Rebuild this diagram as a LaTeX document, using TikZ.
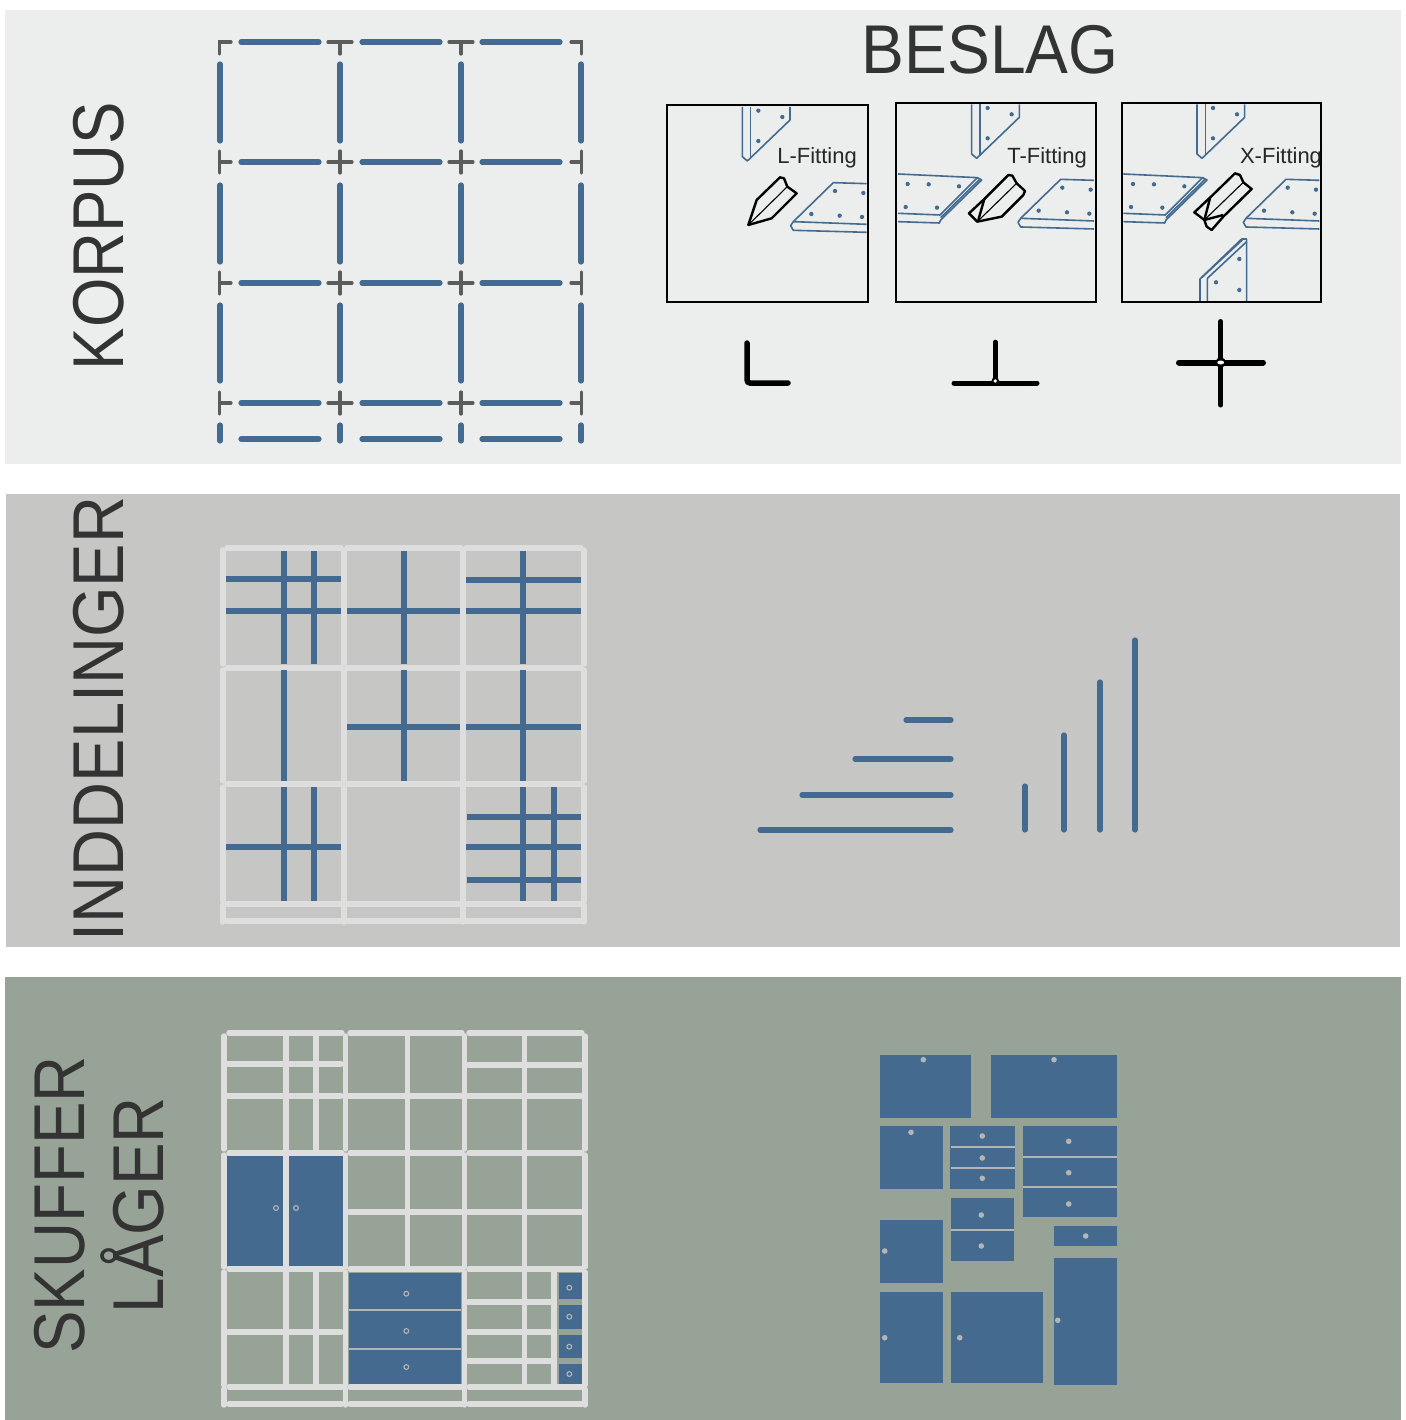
\documentclass[tikz,border=0pt]{standalone}
\usepackage{fontspec}
\setmainfont{Liberation Sans}
\definecolor{korpusbg}{HTML}{ECEEED}
\definecolor{inddelbg}{HTML}{C6C6C4}
\definecolor{skufferbg}{HTML}{98A398}
\definecolor{plate}{HTML}{446A90}
\definecolor{joint}{HTML}{5C5C5C}
\definecolor{rail}{HTML}{DEDEDE}
\definecolor{knob}{HTML}{B4B6B6}
\definecolor{heading}{HTML}{333333}
\tikzset{
  bigtitle/.style={text=heading, inner sep=0pt, font=\fontsize{72}{79}\selectfont},
  fitname/.style={text=black!85, inner sep=0pt, font=\fontsize{22}{24}\selectfont},
  board/.style={draw=plate, line width=5.2pt, line cap=round},
  connector/.style={draw=joint, line width=3.3pt, line cap=round},
  railline/.style={draw=rail, line width=5.4pt, line cap=round},
  divider/.style={draw=plate, line width=6.4pt},
  front/.style={fill=plate, draw=none},
  seam/.style={draw=knob, line width=2pt},
  knobdot/.style={fill=knob, draw=none, circle, minimum size=5.6pt, inner sep=0pt},
  ringdot/.style={draw=knob, line width=1.1pt, fill=plate, circle, minimum size=4.8pt, inner sep=0pt},
  fitbox/.style={draw=black, line width=2.8pt},
  sheet/.style={draw=plate, line width=1.6pt, line join=round},
  hole/.style={fill=plate, draw=none},
  wedge/.style={draw=black, line width=2.4pt, line join=round},
  symbolline/.style={draw=black, line width=5.5pt, line cap=round, rounded corners=3pt},
  % coordinates taken from a 3x enlargement
  pics/topsheet/.style={code={
    \draw[sheet] (247,36) -- (247,185) -- (262,198) -- (390,75) -- (390,36);
    \draw[sheet] (272,36) -- (272,190);
    \foreach \hx/\hy in {295/47,367/66,295/138} \fill[hole] (\hx,\hy) circle (6.5);
  }},
  pics/rightsheet/.style={code={
    \draw[sheet] (620,266) -- (520,263) -- (400,380) -- (392,392) -- (400,406) -- (620,412);
    \draw[sheet] (400,380) -- (620,388);
    \foreach \hx/\hy in {525/288,610/294,454/357,539/362,606/366} \fill[hole] (\hx,\hy) circle (6.5);
  }},
  pics/leftsheet/.style={code={
    \draw[sheet] (24,237) -- (262,248) -- (275,255) -- (152,375) -- (148,384) -- (24,380);
    \draw[sheet] (24,355) -- (150,360) -- (262,248);
    \draw[sheet] (152,368) -- (270,252);
    \foreach \hx/\hy in {53/267,116/268,207/274,47/336,141/338} \fill[hole] (\hx,\hy) circle (6.5);
  }},
}
\begin{document}
\begin{tikzpicture}[x=1pt, y=-1pt]
\useasboundingbox (0,0) rectangle (1405,1420);

% bands
\fill[white] (0,0) rectangle (1405,1420);
\fill[korpusbg] (5,10) rectangle (1401,464);
\fill[inddelbg] (6,494) rectangle (1400,947);
\fill[skufferbg] (5,977) rectangle (1401,1420);

\node[bigtitle, rotate=90, xscale=0.883] (korpus) at (99,236) {KORPUS};
\node[bigtitle, rotate=90, xscale=0.903] (inddelinger) at (99,719) {INDDELINGER};
\node[bigtitle, rotate=90, xscale=0.885, align=center] (skuffer) at (99,1205) {SKUFFER\\LÅGER};
\node[bigtitle, xscale=0.93, font=\fontsize{69}{72}\selectfont] (beslag) at (990,50) {BESLAG};

% korpus boards
\foreach \y in {42,162,283,403,439}
  \foreach \xa/\xb in {241/319,362/440,482/560}
    \draw[board] (\xa,\y) -- (\xb,\y);
\foreach \x in {220,340,461,581}
  \foreach \ya/\yb in {64/141,185/262,305/381,425/441}
    \draw[board] (\x,\ya) -- (\x,\yb);

% korpus joints
\draw[connector] (219.5,54) -- (219.5,42) -- (231,42);
\draw[connector] (581.5,54) -- (581.5,42) -- (571,42);
\foreach \x in {340,461} {
  \draw[connector] (\x-12,42) -- (\x+12,42);
  \draw[connector] (\x,42) -- (\x,54);
}
\foreach \y in {162,283,403} {
  \draw[connector] (219.5,\y-11) -- (219.5,\y+11);
  \draw[connector] (219.5,\y) -- (231,\y);
  \draw[connector] (581.5,\y-11) -- (581.5,\y+11);
  \draw[connector] (581.5,\y) -- (571,\y);
  \foreach \x in {340,461} {
    \draw[connector] (\x-12,\y) -- (\x+12,\y);
    \draw[connector] (\x,\y-11) -- (\x,\y+11);
  }
}

% fittings
\begin{scope}[shift={(660,95)}, x=0.3333pt, y=-0.3333pt]
  \pic {topsheet};
  \pic {rightsheet};
  \draw[wedge] (265,390) -- (290,315) -- (360,247) -- (372,250) -- (382,275) -- (410,295) -- (335,370) -- cycle;
  \draw[wedge, line width=1.1pt] (265,390) -- (382,275);
\end{scope}
\begin{scope}[shift={(890,95)}, x=0.3333pt, y=-0.3333pt]
  \begin{scope}[shift={(-2,-8)}] \pic {topsheet}; \end{scope}
  \begin{scope}[shift={(-8,-10)}] \pic {rightsheet}; \end{scope}
  \pic {leftsheet};
  \draw[wedge] (262,380) -- (237,355) -- (283,312) -- (355,240) -- (367,242) -- (380,265) -- (405,288) -- (400,300) -- (335,365) -- cycle;
  \draw[wedge, line width=1.1pt] (262,380) -- (380,265);
  \draw[wedge] (283,312) -- (265,375);
\end{scope}
\begin{scope}[shift={(1110,95)}, x=0.3333pt, y=-0.3333pt]
  \begin{scope}[shift={(14,-8)}] \pic {topsheet}; \end{scope}
  \begin{scope}[shift={(8,-10)}] \pic {rightsheet}; \end{scope}
  \begin{scope}[shift={(16,0)}] \pic {leftsheet}; \end{scope}
  \draw[sheet] (270,618) -- (270,552) -- (395,432) -- (410,432) -- (410,618);
  \draw[sheet] (292,618) -- (292,550) -- (410,440);
  \draw[sheet] (275,548) -- (400,432);
  \foreach \hx/\hy in {388/492,318/562,388/585} \fill[hole] (\hx,\hy) circle (6.5);
  \draw[wedge] (253,352) -- (300,308) -- (375,235) -- (390,240) -- (400,262) -- (425,282) -- (340,365) -- (305,405) -- (290,395) -- (283,375) -- cycle;
  \draw[wedge, line width=1.1pt] (283,375) -- (400,262);
  \draw[wedge] (300,310) -- (283,375) -- (340,360);
\end{scope}

\draw[fitbox] (667,105) rectangle (868,302);
\draw[fitbox] (896,103) rectangle (1096,302);
\draw[fitbox] (1122,103) rectangle (1321,302);
\node[fitname] (lname) at (817,158) {L-Fitting};
\node[fitname] (tname) at (1047,158) {T-Fitting};
\node[fitname] (xname) at (1281,158) {X-Fitting};

% fitting symbols
\draw[symbolline] (747,343) -- (747,383) -- (788,383);
\draw[symbolline, line width=4.6pt] (995.3,342) -- (995.3,382);
\draw[symbolline, line width=5pt] (954,383) -- (1037,383);
\fill[black] (995.3,381) circle (3.8);
\fill[white] (995.3,381) circle (1.9);
\draw[symbolline, line width=5pt] (1220.7,321.5) -- (1220.7,405);
\draw[symbolline, line width=6pt] (1179,362.5) -- (1263,362.5);
\fill[black] (1220.7,362.5) circle (5.2);
\fill[white] (1220.7,362.5) ellipse (3.4 and 2);

% inddelinger frame
\foreach \y in {548,668,784,904,921}
  \foreach \xa/\xb in {227/341,347/461,466/581}
    \draw[railline] (\xa,\y) -- (\xb,\y);
\foreach \x in {223,344,463,584}
  \foreach \ya/\yb in {550/664,670/781,787/901,905/922}
    \draw[railline] (\x,\ya) -- (\x,\yb);

% inddelinger dividers
\foreach \x/\ya/\yb in {284/551/664,314/551/664,404/551/664,523/551/664,
    284/670/781,404/670/781,523/670/781,
    284/787/901,314/787/901,523/787/901,554/787/901}
  \draw[divider] (\x,\ya) -- (\x,\yb);
\foreach \y/\xa/\xb in {579/226/341,611/226/341,611/347/460,580/466/581,611/466/581,
    727/347/460,727/466/581,
    847/226/341,817/467/581,847/466/581,880/467/581}
  \draw[divider] (\xa,\y) -- (\xb,\y);

% loose dividers
\foreach \xa/\y in {906/720,855/759,802/795,760/830}
  \draw[board] (\xa,\y) -- (951,\y);
\foreach \x/\ya in {1025/786,1064/735,1100/682,1135/640}
  \draw[board] (\x,\ya) -- (\x,830);

% skuffer frame
\foreach \y in {1033,1153,1269,1387,1404}
  \foreach \xa/\xb in {229/342,350/462,469/582}
    \draw[railline] (\xa,\y) -- (\xb,\y);
\foreach \x in {224,345.7,464.7,585}
  \foreach \ya/\yb in {1036/1149,1155/1267,1272/1385,1389/1405}
    \draw[railline] (\x,\ya) -- (\x,\yb);

% skuffer rails
\foreach \x/\ya/\yb in {286/1036/1150,316/1036/1150,407.7/1036/1150,524.7/1036/1150,
    407.7/1155/1267,524.7/1155/1267,
    286/1272/1385,316/1272/1385,524.7/1272/1385,554/1272/1385}
  \draw[railline, line cap=butt] (\x,\ya) -- (\x,\yb);
\foreach \y/\xa/\xb in {1064/228/341,1096/228/341,1096/349/461,1065/468/581,1096/468/581,
    1212/349/461,1212/468/581,
    1332/228/341,1302/468/552,1332/468/552,1361/468/552}
  \draw[railline] (\xa,\y) -- (\xb,\y);

% fitted fronts
\fill[front] (227,1156) rectangle (343,1266);
\draw[railline, line cap=butt] (286,1153) -- (286,1268);
\node[ringdot] (doorl) at (276,1208) {};
\node[ringdot] (doorr) at (296,1208) {};
\fill[front] (348.7,1272.7) rectangle (461.3,1384);
\draw[seam] (348.7,1310) -- (461.3,1310);
\draw[seam] (348.7,1349) -- (461.3,1349);
\node[ringdot] (drawera) at (406.3,1293.7) {};
\node[ringdot] (drawerb) at (406.3,1331) {};
\node[ringdot] (drawerc) at (406.3,1367) {};
\foreach \ya/\yb/\yk in {1272.7/1299/1287.7,1305.3/1329/1316.7,1335/1358.3/1346.7,1364.3/1384/1374} {
  \fill[front] (558.7,\ya) rectangle (582,\yb);
  \node[ringdot] at (569.3,\yk) {};
}

% loose fronts
\foreach \xa/\ya/\xb/\yb in {880/1055/971/1118, 991/1055/1117/1118, 880/1126/943/1189,
    950/1126/1015/1189, 1023/1126/1117/1217, 951/1198/1014/1261, 880/1220/943/1283,
    1054/1226/1117/1246, 1054/1258/1117/1385, 880/1292/943/1383, 951/1292/1043/1383}
  \fill[front] (\xa,\ya) rectangle (\xb,\yb);
\foreach \xa/\xb/\y in {951/1015/1147, 951/1015/1168, 1023/1117/1157, 1023/1117/1187, 951/1014/1230}
  \draw[seam] (\xa,\y) -- (\xb,\y);
\foreach \x/\y in {923.3/1059.7, 1054/1059.7, 911/1132.3, 982.3/1136, 982.3/1158, 982.3/1178.3,
    1068.7/1141.3, 1068.7/1172.7, 1068.7/1204, 981.3/1215, 981.3/1246, 884.7/1251,
    1085.7/1236, 1057.7/1320.3, 884.7/1337.7, 959.7/1337.7}
  \node[knobdot] at (\x,\y) {};
\end{tikzpicture}
\end{document}
